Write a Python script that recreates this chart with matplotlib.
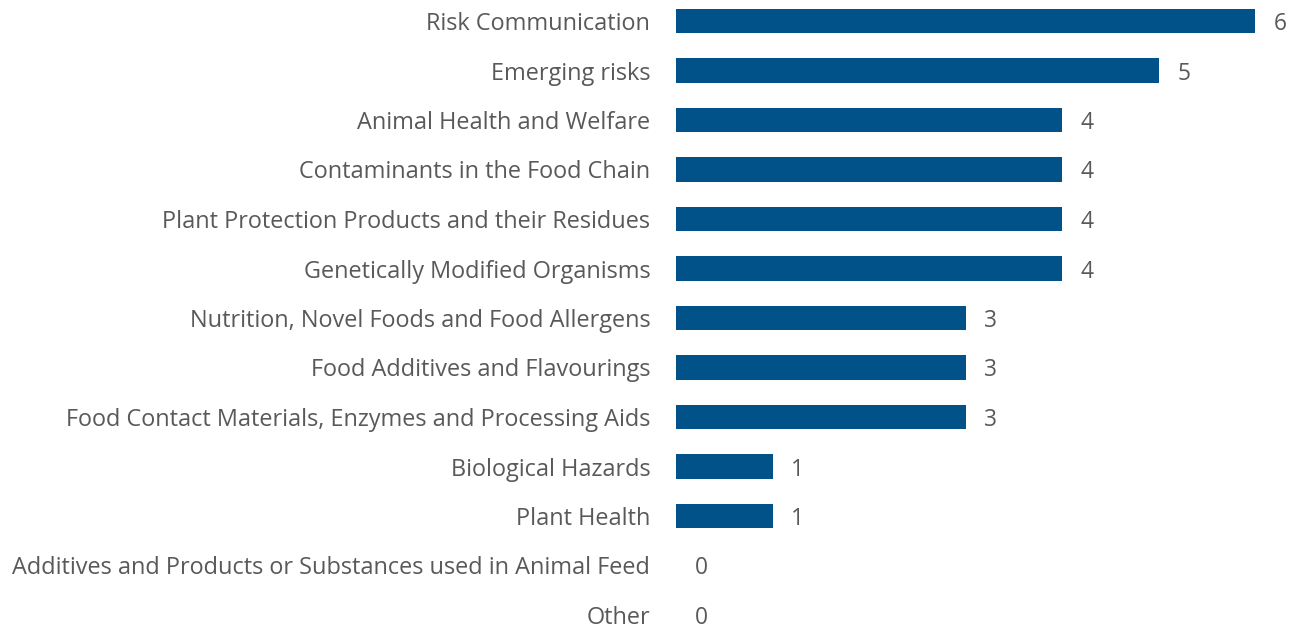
import matplotlib
matplotlib.use("Agg")
import matplotlib.pyplot as plt

categories = [
    "Risk Communication",
    "Emerging risks",
    "Animal Health and Welfare",
    "Contaminants in the Food Chain",
    "Plant Protection Products and their Residues",
    "Genetically Modified Organisms",
    "Nutrition, Novel Foods and Food Allergens",
    "Food Additives and Flavourings",
    "Food Contact Materials, Enzymes and Processing Aids",
    "Biological Hazards",
    "Plant Health",
    "Additives and Products or Substances used in Animal Feed",
    "Other",
]
counts = [6, 5, 4, 4, 4, 4, 3, 3, 3, 1, 1, 0, 0]

BAR_COLOR = "#02528A"
TEXT_COLOR = "#595959"
FONT_SIZE = 16.9

plt.rcParams["font.family"] = ["Open Sans", "DejaVu Sans"]

W, H = 1298, 630
fig = plt.figure(figsize=(W / 100, H / 100), dpi=100)

px_left = 676
px_per_unit = 96.5
xmax = 6.2
ax = fig.add_axes([px_left / W, 0, xmax * px_per_unit / W, 1])

positions = list(range(len(categories)))
ax.barh(positions, counts, height=0.5, color=BAR_COLOR)

row_px = 49.5
ax.set_ylim(12 + 15 / row_px, -21 / row_px)
ax.set_xlim(0, xmax)

ax.set_yticks(positions)
ax.set_yticklabels(categories, fontsize=FONT_SIZE, color=TEXT_COLOR)
ax.tick_params(axis="y", length=0, pad=18.5)
ax.set_xticks([])
for s in ax.spines.values():
    s.set_visible(False)

for y, v in zip(positions, counts):
    ax.annotate(str(v), xy=(v, y), xytext=(13.5, 0), textcoords="offset points",
                va="center_baseline", ha="left", fontsize=FONT_SIZE - 0.5,
                color=TEXT_COLOR, annotation_clip=False)

fig.savefig("out.png", dpi=100)
